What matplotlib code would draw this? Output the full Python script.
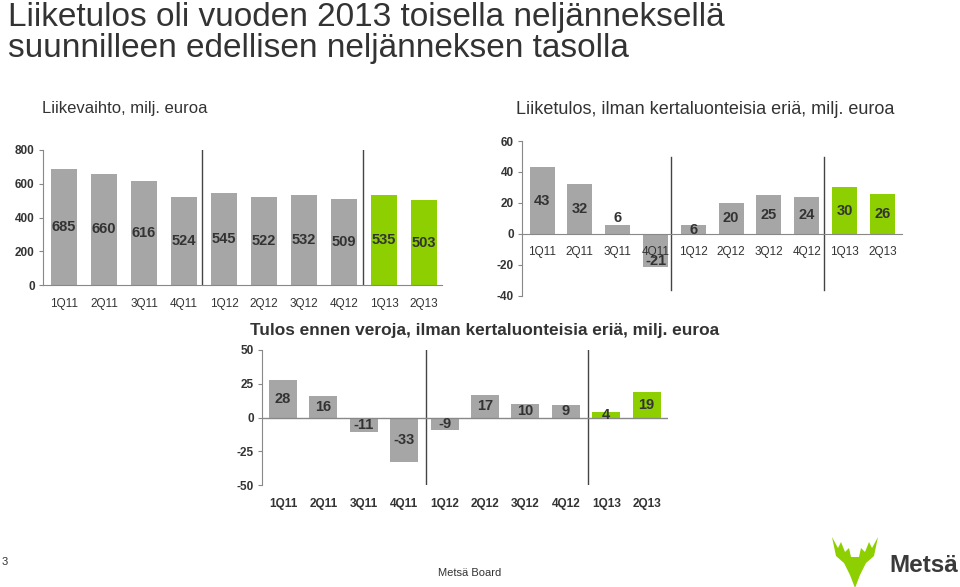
import matplotlib
matplotlib.use("Agg")
import matplotlib.pyplot as plt
from matplotlib.patches import Polygon

plt.rcParams['font.family'] = ['Liberation Sans', 'DejaVu Sans']
plt.rcParams['axes.unicode_minus'] = False

# data
quarters = ["1Q11", "2Q11", "3Q11", "4Q11", "1Q12", "2Q12", "3Q12", "4Q12", "1Q13", "2Q13"]
liikevaihto = [685, 660, 616, 524, 545, 522, 532, 509, 535, 503]
liiketulos = [43, 32, 6, -21, 6, 20, 25, 24, 30, 26]
tulos_ennen_veroja = [28, 16, -11, -33, -9, 17, 10, 9, 4, 19]
korostetut = ["1Q13", "2Q13"]  # vihreat palkit

HARMAA = "#a6a6a6"
VIHREA = "#8dcf00"
TEKSTI = "#333333"
VIIVA = "#888888"

W, H = 960, 587
fig = plt.figure(figsize=(W / 100, H / 100), dpi=100)


def px_akseli(x0, y_top, x1, y_bot):
    # pikselit -> figure-koordinaatit
    return fig.add_axes([x0 / W, 1 - y_bot / H, (x1 - x0) / W, (y_bot - y_top) / H])


def pylvaat(ax, arvot, leveys, ylim, yticks, nolla_akseli, label_y=None):
    x = list(range(len(quarters)))
    varit = [VIHREA if q in korostetut else HARMAA for q in quarters]
    ax.bar(x, arvot, width=leveys, color=varit, zorder=2)
    ax.set_axisbelow(False)
    ax.set_ylim(*ylim)
    ax.set_yticks(yticks)
    ax.set_xticks(x)
    ax.set_xticklabels(quarters, fontweight="bold")
    for t in ax.get_yticklabels():
        t.set_fontweight("bold")
    ax.tick_params(axis="x", length=0, pad=9, labelsize=8.5, labelcolor=TEKSTI)
    ax.tick_params(axis="y", length=3, width=0.8, color=VIIVA, pad=3, labelsize=8.5, labelcolor=TEKSTI)
    for s in ["top", "right"]:
        ax.spines[s].set_visible(False)
    ax.spines["left"].set_color(VIIVA)
    ax.spines["left"].set_linewidth(0.8)
    if nolla_akseli:
        ax.spines["bottom"].set_position(("data", 0))
        ax.spines["bottom"].set_color(VIIVA)
    else:
        ax.spines["bottom"].set_visible(False)
        ax.axhline(0, color=VIIVA, lw=1, zorder=3)
    for i, v in enumerate(arvot):
        y = v / 2
        if label_y and i in label_y:
            y = label_y[i]
        ax.text(i, y, str(v), ha="center", va="center", fontsize=10.5, fontweight="bold",
                color=TEKSTI, zorder=4)
    ax.patch.set_alpha(0)


# Liikevaihto
ax1 = px_akseli(43, 150, 442, 285)
ax1.set_xlim(-0.525, 9.45)
pylvaat(ax1, liikevaihto, 0.66, (0, 800), [0, 200, 400, 600, 800], True)
for xv in (3.45, 7.47):
    ax1.axvline(xv, color="#444444", lw=1)

# Liiketulos
ax2 = px_akseli(522, 141, 902, 296)
ax2.set_xlim(-0.53, 9.52)
pylvaat(ax2, liiketulos, 0.66, (-40, 60), [-40, -20, 0, 20, 40, 60], True,
        label_y={2: 10, 3: -17.5, 4: 2.5})
for xv in (3.41, 7.46):
    ax2.axvline(xv, ymin=0.037, ymax=0.9, color="#444444", lw=1)

# Tulos ennen veroja
ax3 = px_akseli(262, 350, 668, 485)
ax3.set_xlim(-0.52, 9.53)
pylvaat(ax3, tulos_ennen_veroja, 0.69, (-50, 50), [-50, -25, 0, 25, 50], False)
for xv in (3.55, 7.55):
    ax3.axvline(xv, color="#444444", lw=1)

# otsikot
fig.text(8 / W, 1 - 26 / H, "Liiketulos oli vuoden 2013 toisella neljänneksellä",
         fontsize=24, color=TEKSTI, va="baseline")
fig.text(8 / W, 1 - 57 / H, "suunnilleen edellisen neljänneksen tasolla",
         fontsize=24, color=TEKSTI, va="baseline")
fig.text(42 / W, 1 - 109 / H, "Liikevaihto, milj. euroa", fontsize=12, color=TEKSTI, va="center")
fig.text(516 / W, 1 - 109 / H, "Liiketulos, ilman kertaluonteisia eriä, milj. euroa",
         fontsize=13, color=TEKSTI, va="center")
fig.text(250 / W, 1 - 331 / H, "Tulos ennen veroja, ilman kertaluonteisia eriä, milj. euroa",
         fontsize=12.4, fontweight="bold", color=TEKSTI, va="center")

# alatunniste
fig.text(2 / W, 1 - 562 / H, "3", fontsize=8, color=TEKSTI, va="center")
fig.text(470 / W, 1 - 573 / H, "Metsä Board", fontsize=8, color=TEKSTI, va="center", ha="center")
fig.text(958 / W, 1 - 565 / H, "Metsä", fontsize=17.5, fontweight="bold", color="#3a3a3a",
         va="center", ha="right")

# logo (hirvi)
sarvi = [(832, 537), (838, 548), (841, 542), (845, 552), (849, 548), (851, 557),
         (859, 557), (861, 548), (865, 552), (869, 542), (872, 548), (878, 537),
         (874, 556), (866, 563), (860, 575), (855, 588), (850, 575), (844, 563), (836, 556)]
fig.patches.append(Polygon([(x / W, 1 - y / H) for x, y in sarvi], closed=True,
                           transform=fig.transFigure, facecolor=VIHREA, edgecolor="none"))

fig.savefig("out.png", dpi=100)
